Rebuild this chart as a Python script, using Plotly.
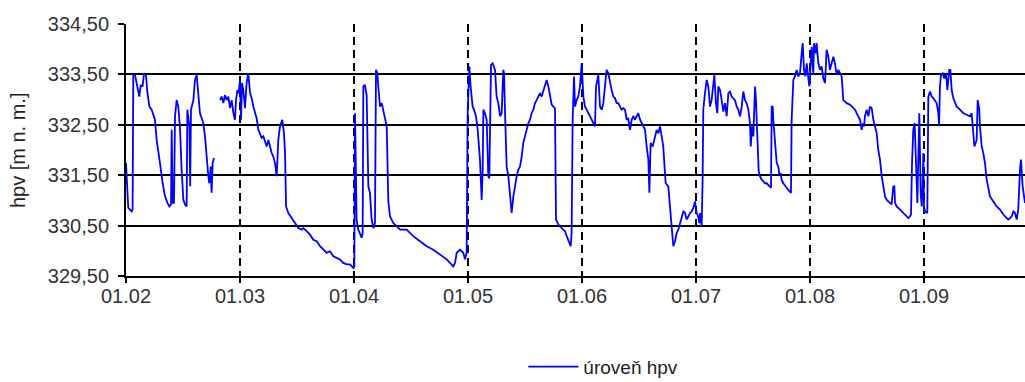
import plotly.graph_objects as go

# time in months since 01.02 (uniform month spacing on the axis), level in m n. m.
t = [0.000, 0.020, 0.050, 0.058, 0.064, 0.079, 0.099, 0.117, 0.129, 0.146, 0.158, 0.175, 0.187, 0.205,
     0.225, 0.240, 0.254, 0.269, 0.284, 0.298, 0.322, 0.342, 0.363, 0.380, 0.395, 0.401, 0.409, 0.421,
     0.430, 0.444, 0.459, 0.474, 0.488, 0.503, 0.518, 0.532, 0.538, 0.547, 0.556, 0.563, 0.570, 0.591,
     0.605, 0.620, 0.635, 0.649, 0.664, 0.678, 0.693, 0.708, 0.722, 0.731, 0.743, 0.751, 0.760, 0.772,
     0.800,
     0.825, 0.839, 0.854, 0.868, 0.883, 0.898, 0.912, 0.927, 0.942, 0.956, 0.965, 0.977, 0.988, 1.000,
     1.009, 1.018, 1.029, 1.044, 1.058, 1.073, 1.088, 1.102, 1.117, 1.132, 1.146, 1.161, 1.175, 1.190,
     1.205, 1.219, 1.234, 1.249, 1.263, 1.278, 1.292, 1.307, 1.322, 1.336, 1.351, 1.371, 1.386, 1.395,
     1.404, 1.424, 1.453, 1.482, 1.512, 1.541,
     1.556, 1.585, 1.614, 1.643, 1.673, 1.702, 1.731, 1.760, 1.789, 1.819, 1.848, 1.877, 1.906, 1.936,
     1.965, 1.994, 2.003, 2.009, 2.023, 2.038, 2.067, 2.076, 2.082, 2.096, 2.111, 2.126, 2.140, 2.155,
     2.170, 2.184, 2.193, 2.205, 2.213, 2.228, 2.243, 2.257, 2.272, 2.287, 2.301, 2.316, 2.345, 2.404,
     2.462, 2.520, 2.579, 2.637, 2.696, 2.754, 2.813, 2.842, 2.871, 2.886, 2.901, 2.930, 2.959, 2.974,
     2.988, 2.997, 3.012, 3.023, 3.041, 3.053, 3.070, 3.085,
     3.105, 3.120, 3.129, 3.135, 3.149, 3.164, 3.178, 3.187, 3.193, 3.202, 3.216, 3.237, 3.251, 3.266,
     3.281, 3.295, 3.310, 3.316, 3.325, 3.339, 3.354, 3.368, 3.383, 3.398, 3.412, 3.427, 3.442, 3.456,
     3.471, 3.485, 3.500, 3.515, 3.529, 3.544, 3.558, 3.573, 3.588, 3.602, 3.617, 3.632, 3.646, 3.661,
     3.675, 3.690, 3.705, 3.719, 3.734, 3.749, 3.763, 3.772, 3.793, 3.822, 3.851, 3.871, 3.889, 3.901,
     3.909, 3.918, 3.930, 3.939, 3.953, 3.968, 3.982, 3.997, 4.012, 4.026, 4.041, 4.056, 4.070, 4.085,
     4.099, 4.114, 4.123, 4.135, 4.143, 4.158, 4.173, 4.187, 4.202, 4.216, 4.231, 4.246, 4.260, 4.275,
     4.289, 4.304, 4.319, 4.333, 4.348, 4.363, 4.377, 4.392, 4.406, 4.421, 4.436, 4.450, 4.465, 4.480,
     4.494, 4.509, 4.523, 4.538, 4.553, 4.567, 4.582, 4.591, 4.602, 4.620, 4.640, 4.655, 4.670, 4.684,
     4.699, 4.713,
     4.722, 4.734, 4.757, 4.772, 4.787, 4.801, 4.816, 4.830, 4.845, 4.860, 4.874, 4.889, 4.904, 4.918,
     4.933, 4.947, 4.962, 4.977, 4.991, 5.006, 5.020, 5.029, 5.035, 5.050, 5.058, 5.064, 5.079, 5.094,
     5.108, 5.123, 5.137, 5.152, 5.161, 5.175, 5.187, 5.196, 5.211, 5.225, 5.240, 5.254, 5.269, 5.284,
     5.298, 5.313, 5.327, 5.342, 5.357, 5.371, 5.386, 5.401, 5.415, 5.430, 5.444, 5.459, 5.474, 5.480,
     5.491, 5.503, 5.518, 5.526, 5.538, 5.550, 5.561, 5.576, 5.591, 5.605, 5.620, 5.643, 5.658, 5.664,
     5.673, 5.678, 5.693, 5.708, 5.722, 5.731, 5.743, 5.751, 5.766, 5.781, 5.795, 5.810, 5.825, 5.833,
     5.839, 5.854, 5.868, 5.883, 5.898, 5.912, 5.927, 5.936, 5.947, 5.959, 5.971, 5.985, 5.994, 6.000,
     6.015, 6.029, 6.035, 6.050, 6.058, 6.073, 6.088, 6.102, 6.117, 6.132, 6.146, 6.161, 6.175, 6.190,
     6.205, 6.219, 6.234, 6.249, 6.263, 6.278,
     6.292, 6.307, 6.322, 6.351, 6.380, 6.395, 6.409, 6.424, 6.439, 6.453, 6.462, 6.474, 6.482, 6.497,
     6.512, 6.526, 6.541, 6.556, 6.570, 6.585, 6.599, 6.614, 6.629, 6.643, 6.658, 6.673, 6.687, 6.702,
     6.716, 6.731, 6.740, 6.746, 6.760, 6.775, 6.789, 6.804, 6.819, 6.833, 6.848, 6.863, 6.877, 6.886,
     6.895, 6.906, 6.918, 6.930, 6.942, 6.950, 6.959, 6.971, 6.980, 6.988, 6.994, 7.000, 7.009, 7.029,
     7.038, 7.053, 7.067, 7.082, 7.096, 7.111, 7.126, 7.132, 7.140, 7.149, 7.164, 7.178, 7.193, 7.205,
     7.213, 7.222, 7.231, 7.243, 7.257, 7.272, 7.287, 7.316, 7.345, 7.374, 7.404, 7.418, 7.433, 7.442,
     7.453, 7.462, 7.471, 7.485, 7.491, 7.506, 7.520, 7.535, 7.550, 7.564, 7.579, 7.608, 7.637, 7.667,
     7.696, 7.725, 7.740, 7.754, 7.769, 7.784, 7.798, 7.813, 7.827, 7.842, 7.851, 7.865, 7.877, 7.886]

hpv = [331.74, 330.85, 330.78, 330.82, 333.49, 333.49, 333.26, 333.06, 333.29, 333.26, 333.52, 333.49, 333.16, 332.86,
       332.80, 332.67, 332.60, 332.20, 332.00, 331.74, 331.34, 331.08, 330.95, 330.88, 330.92, 332.40, 330.95, 330.95,
       332.67, 332.99, 332.86, 332.40, 331.61, 331.01, 330.92, 330.88, 332.80, 332.67, 332.47, 331.28, 332.80, 332.99,
       333.39, 333.49, 333.03, 332.73, 332.63, 332.53, 332.27, 331.81, 331.48, 331.34, 331.67, 331.15, 331.74, 331.84,
       None,
       332.99, 333.06, 332.93, 333.09, 332.99, 333.06, 332.83, 332.99, 332.73, 332.60, 332.99, 333.19, 333.13, 333.39,
       332.60, 333.33, 333.19, 332.83, 333.33, 333.52, 333.13, 333.03, 332.86, 332.73, 332.63, 332.40, 332.30, 332.24,
       332.27, 332.17, 332.07, 332.20, 332.04, 331.94, 331.87, 331.74, 331.48, 332.20, 332.47, 332.60, 332.33, 331.94,
       330.88, 330.75, 330.65, 330.55, 330.45, 330.42,
       330.45, 330.39, 330.32, 330.22, 330.19, 330.09, 330.02, 329.96, 329.99, 329.89, 329.86, 329.83, 329.76, 329.73,
       329.73, 329.66, 329.69, 332.73, 330.62, 330.42, 330.26, 330.35, 333.26, 333.29, 333.09, 331.28, 331.15, 330.62,
       330.45, 330.55, 333.59, 333.52, 333.26, 332.86, 332.93, 332.80, 332.60, 332.47, 330.98, 330.68, 330.55, 330.42,
       330.42, 330.29, 330.19, 330.09, 330.02, 329.93, 329.83, 329.76, 329.69, 329.76, 329.96, 330.02, 329.96, 329.83,
       329.96, 332.73, 333.66, 333.26, 332.86, 332.80, 332.67, 332.40,
       331.81, 331.01, 331.61, 332.80, 332.73, 332.60, 331.48, 331.44, 332.93, 333.69, 333.72, 333.59, 333.06, 332.93,
       332.67, 332.73, 333.59, 333.52, 332.73, 331.67, 331.48, 331.08, 330.75, 331.08, 331.28, 331.48, 331.61, 331.67,
       331.87, 332.14, 332.27, 332.40, 332.53, 332.60, 332.73, 332.80, 332.93, 332.99, 333.06, 333.13, 333.06, 333.19,
       333.26, 333.39, 333.26, 333.06, 332.90, 332.86, 332.83, 330.62, 330.52, 330.45, 330.39, 330.26, 330.16, 330.09,
       330.35, 332.60, 333.46, 332.86, 332.99, 333.06, 333.26, 333.72, 333.06, 332.86, 332.80, 332.73, 332.67, 332.60,
       332.53, 332.47, 333.26, 333.46, 333.49, 332.86, 332.80, 332.93, 333.26, 333.59, 333.52, 333.33, 333.19, 333.06,
       333.03, 332.93, 332.93, 332.86, 332.80, 332.83, 332.80, 332.60, 332.63, 332.40, 332.60, 332.67, 332.60, 332.67,
       332.73, 332.60, 332.53, 332.47, 332.40, 332.07, 331.81, 331.15, 332.14, 332.07, 332.27, 332.40, 332.33, 332.47,
       332.27, 332.07,
       331.74, 331.34, 331.28, 330.88, 330.42, 330.09, 330.19, 330.35, 330.42, 330.55, 330.68, 330.78, 330.75, 330.62,
       330.68, 330.75, 330.78, 330.85, 330.98, 330.75, 330.68, 330.55, 330.75, 330.49, 331.41, 332.80, 333.13, 333.39,
       333.26, 332.86, 332.99, 333.39, 333.49, 332.93, 332.73, 333.26, 333.19, 332.99, 332.76, 332.93, 332.67, 333.13,
       333.16, 333.06, 333.03, 332.99, 332.86, 332.80, 332.67, 332.86, 333.16, 332.99, 332.93, 332.80, 332.53, 332.07,
       332.47, 332.27, 333.26, 332.99, 332.27, 331.58, 331.48, 331.41, 331.38, 331.34, 331.34, 331.28, 331.25, 332.86,
       332.86, 332.60, 332.07, 331.74, 331.67, 331.51, 331.54, 331.41, 331.34, 331.28, 331.25, 331.21, 331.18, 331.15,
       332.60, 333.39, 333.46, 333.59, 333.46, 333.52, 333.92, 334.12, 333.59, 333.46, 333.72, 333.33, 333.26, 333.46,
       334.05, 333.52, 334.12, 333.92, 334.12, 333.72, 333.59, 333.66, 333.42, 333.33, 333.99, 333.85, 333.59, 333.72,
       333.85, 333.72, 333.49, 333.59, 333.52, 333.46,
       332.99, 332.96, 332.93, 332.90, 332.83, 332.80, 332.73, 332.67, 332.60, 332.40, 332.53, 332.47, 332.67, 332.80,
       332.67, 332.86, 332.83, 332.60, 332.47, 332.33, 332.00, 331.81, 331.48, 331.28, 331.08, 331.01, 330.98, 330.95,
       330.92, 331.28, 331.28, 330.95, 330.88, 330.85, 330.82, 330.78, 330.75, 330.72, 330.68, 330.65, 330.68, 330.72,
       331.74, 332.40, 332.53, 331.81, 330.95, 331.81, 332.73, 331.15, 330.88, 331.28, 331.94, 330.88, 330.78, 330.75,
       333.06, 333.16, 333.06, 333.03, 332.99, 332.93, 332.73, 332.47, 333.26, 333.49, 333.52, 333.42, 333.52, 333.19,
       333.39, 333.59, 333.59, 333.19, 333.03, 332.96, 332.86, 332.80, 332.73, 332.70, 332.67, 332.73, 332.33, 332.07,
       332.14, 332.20, 332.99, 332.80, 332.47, 332.07, 331.94, 331.74, 331.41, 331.21, 331.08, 330.98, 330.88, 330.82,
       330.72, 330.65, 330.62, 330.65, 330.68, 330.78, 330.75, 330.62, 330.82, 331.61, 331.81, 331.28, 331.01, 330.95]

x_tick_pos = [0, 1, 2, 3, 4, 5, 6, 7]
x_tick_labels = ["01.02", "01.03", "01.04", "01.05", "01.06", "01.07", "01.08", "01.09"]
y_tick_vals = [329.5, 330.5, 331.5, 332.5, 333.5, 334.5]
y_tick_labels = ["329,50", "330,50", "331,50", "332,50", "333,50", "334,50"]

FONT = "Liberation Sans, Arial, sans-serif"

fig = go.Figure()
fig.add_trace(go.Scatter(
    x=t, y=hpv, mode="lines", name="úroveň hpv",
    line=dict(color="#0000FF", width=1.8),
    connectgaps=False,
))

fig.update_layout(
    width=1025, height=382,
    margin=dict(l=126, r=0, t=24, b=106, autoexpand=False),
    paper_bgcolor="white", plot_bgcolor="white",
    font=dict(family=FONT, size=20, color="#333333"),
    showlegend=True,
    legend=dict(orientation="h", x=0.442, xanchor="left",
                yref="container", y=0.040, yanchor="middle",
                font=dict(family=FONT, size=19, color="#222222"),
                bgcolor="rgba(0,0,0,0)", itemwidth=50),
    xaxis=dict(
        range=[0, 7.886], tickmode="array", tickvals=x_tick_pos, ticktext=x_tick_labels,
        showgrid=True, gridcolor="#000000", gridwidth=2, griddash="8px,5px",
        ticks="outside", ticklen=5, tickcolor="#000000", tickwidth=1.5,
        showline=True, linecolor="#000000", linewidth=1.5,
        zeroline=False, tickfont=dict(family=FONT, size=20, color="#333333"),
        ticklabelstandoff=-4, automargin=False,
    ),
    yaxis=dict(
        range=[329.5, 334.5], tickmode="array", tickvals=y_tick_vals, ticktext=y_tick_labels,
        showgrid=True, gridcolor="#000000", gridwidth=1.5,
        ticks="outside", ticklen=6, tickcolor="#000000", tickwidth=1.5,
        showline=True, linecolor="#000000", linewidth=2,
        zeroline=False, tickfont=dict(family=FONT, size=20, color="#333333"),
        ticklabelstandoff=5, automargin=False,
    ),
    annotations=[dict(
        text="hpv [m n. m.]", xref="paper", yref="paper", x=-0.12, y=0.5,
        xanchor="center", yanchor="middle", textangle=-90, showarrow=False,
        font=dict(family=FONT, size=20, color="#222222"),
    )],
)

fig.write_html("out.html")
